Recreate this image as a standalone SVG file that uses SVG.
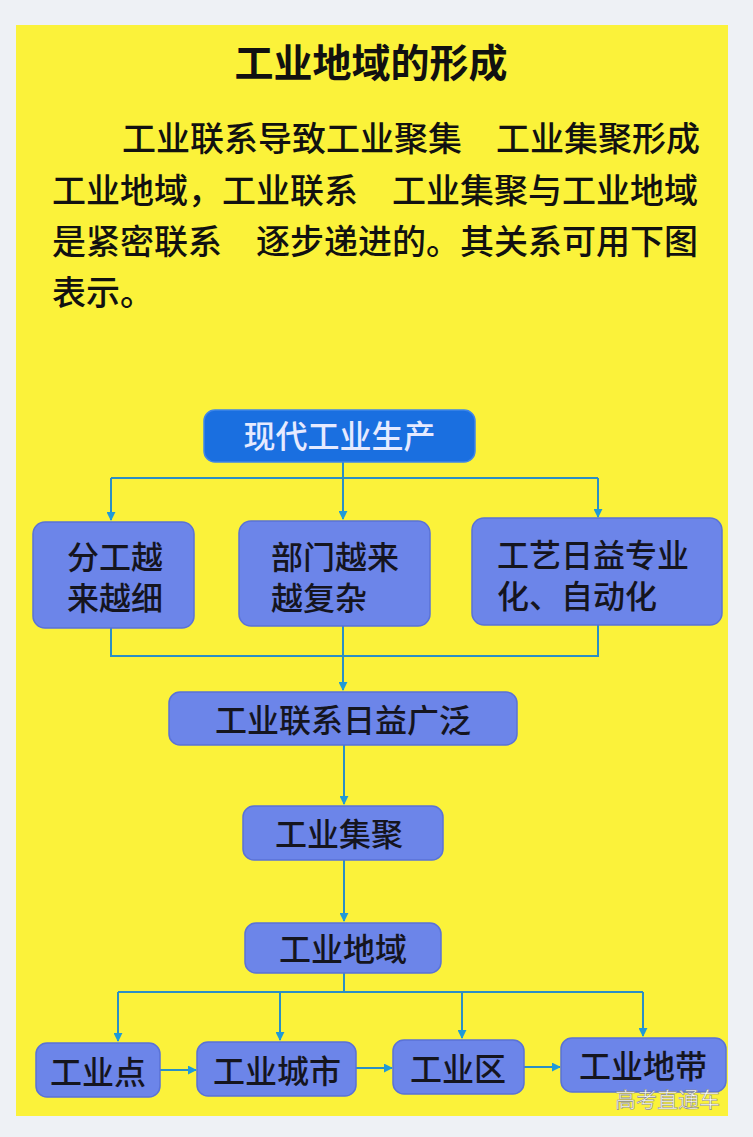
<svg xmlns="http://www.w3.org/2000/svg" width="753" height="1137" viewBox="0 0 753 1137">
<defs>
<style>
.cjk{font-family:"Noto Sans CJK SC","Noto Sans CJK TC",sans-serif;}
.title{font-size:39px;font-weight:bold;fill:#111;}
.body{font-size:34px;font-weight:500;fill:#111;}
.box{fill:#6c85e9;stroke:#5a72d6;stroke-width:1.5;}
.top{fill:#1a6fe0;stroke:#3f86e8;stroke-width:1.5;}
.lbl{font-size:32px;font-weight:500;fill:#15151f;}
.toplbl{font-size:32px;font-weight:500;fill:#e6eaff;}
.conn{fill:none;stroke:#2b8fc4;stroke-width:2;}
.wm{font-size:21px;fill:#ffffff;stroke:#8a8a8a;stroke-width:0.6;}
</style>
<marker id="ah" viewBox="0 0 10 10" refX="9" refY="5" markerWidth="9" markerHeight="9" markerUnits="userSpaceOnUse" orient="auto">
<path d="M0,0 L10,5 L0,10 Z" fill="#1f9ad8"/>
</marker>
</defs>
<rect x="0" y="0" width="753" height="1137" fill="#eef1f5"/>
<rect x="16" y="25" width="712" height="1091" fill="#fbf23a"/>

<g id="text-block" class="cjk">
<text class="title" x="371" y="77" text-anchor="middle">工业地域的形成</text>
<text class="body" x="122" y="151">工业联系导致工业聚集　工业集聚形成</text>
<text class="body" x="52" y="203">工业地域，工业联系　工业集聚与工业地域</text>
<text class="body" x="52" y="254">是紧密联系　逐步递进的。其关系可用下图</text>
<text class="body" x="52" y="305">表示。</text>
</g>

<g id="connectors">
<path class="conn" d="M343,462 V478"/>
<path class="conn" d="M111,478 H598"/>
<path class="conn" d="M111,478 V520" marker-end="url(#ah)"/>
<path class="conn" d="M343,478 V519" marker-end="url(#ah)"/>
<path class="conn" d="M598,478 V517" marker-end="url(#ah)"/>
<path class="conn" d="M111,628 V656 H598 V625"/>
<path class="conn" d="M343,626 V690" marker-end="url(#ah)"/>
<path class="conn" d="M344,745 V804" marker-end="url(#ah)"/>
<path class="conn" d="M344,860 V921" marker-end="url(#ah)"/>
<path class="conn" d="M344,973 V992"/>
<path class="conn" d="M118,992 H643"/>
<path class="conn" d="M118,992 V1041" marker-end="url(#ah)"/>
<path class="conn" d="M280,992 V1040" marker-end="url(#ah)"/>
<path class="conn" d="M462,992 V1038" marker-end="url(#ah)"/>
<path class="conn" d="M643,992 V1036" marker-end="url(#ah)"/>
<path class="conn" d="M160,1070 H196" marker-end="url(#ah)"/>
<path class="conn" d="M356,1068 H392" marker-end="url(#ah)"/>
<path class="conn" d="M524,1067 H560" marker-end="url(#ah)"/>
</g>

<g id="n-modern" class="cjk">
<rect class="top" x="204" y="410" width="271" height="52" rx="11"/>
<text class="toplbl" x="339.5" y="448" text-anchor="middle">现代工业生产</text>
</g>

<g id="n-division" class="cjk">
<rect class="box" x="33" y="522" width="161" height="106" rx="12"/>
<text class="lbl"><tspan x="67" y="569">分工越</tspan><tspan x="67" y="610">来越细</tspan></text>
</g>

<g id="n-sector" class="cjk">
<rect class="box" x="239" y="521" width="191" height="105" rx="12"/>
<text class="lbl"><tspan x="271" y="569">部门越来</tspan><tspan x="271" y="610">越复杂</tspan></text>
</g>

<g id="n-craft" class="cjk">
<rect class="box" x="472" y="518" width="250" height="107" rx="12"/>
<text class="lbl"><tspan x="497" y="567">工艺日益专业</tspan><tspan x="497" y="608">化、自动化</tspan></text>
</g>

<g id="n-link" class="cjk">
<rect class="box" x="169" y="692" width="348" height="53" rx="11"/>
<text class="lbl" x="343" y="732" text-anchor="middle">工业联系日益广泛</text>
</g>

<g id="n-cluster" class="cjk">
<rect class="box" x="243" y="806" width="200" height="54" rx="11"/>
<text class="lbl" x="339" y="846" text-anchor="middle">工业集聚</text>
</g>

<g id="n-region" class="cjk">
<rect class="box" x="245" y="923" width="196" height="50" rx="11"/>
<text class="lbl" x="343" y="961" text-anchor="middle">工业地域</text>
</g>

<g id="n-point" class="cjk">
<rect class="box" x="36" y="1043" width="124" height="54" rx="11"/>
<text class="lbl" x="98" y="1084" text-anchor="middle">工业点</text>
</g>

<g id="n-city" class="cjk">
<rect class="box" x="197" y="1042" width="159" height="54" rx="11"/>
<text class="lbl" x="277" y="1083" text-anchor="middle">工业城市</text>
</g>

<g id="n-zone" class="cjk">
<rect class="box" x="393" y="1040" width="131" height="54" rx="11"/>
<text class="lbl" x="458" y="1081" text-anchor="middle">工业区</text>
</g>

<g id="n-belt" class="cjk">
<rect class="box" x="561" y="1038" width="165" height="54" rx="11"/>
<text class="lbl" x="643" y="1078" text-anchor="middle">工业地带</text>
</g>

<text class="cjk wm" x="615" y="1107">高考直通车</text>
</svg>
